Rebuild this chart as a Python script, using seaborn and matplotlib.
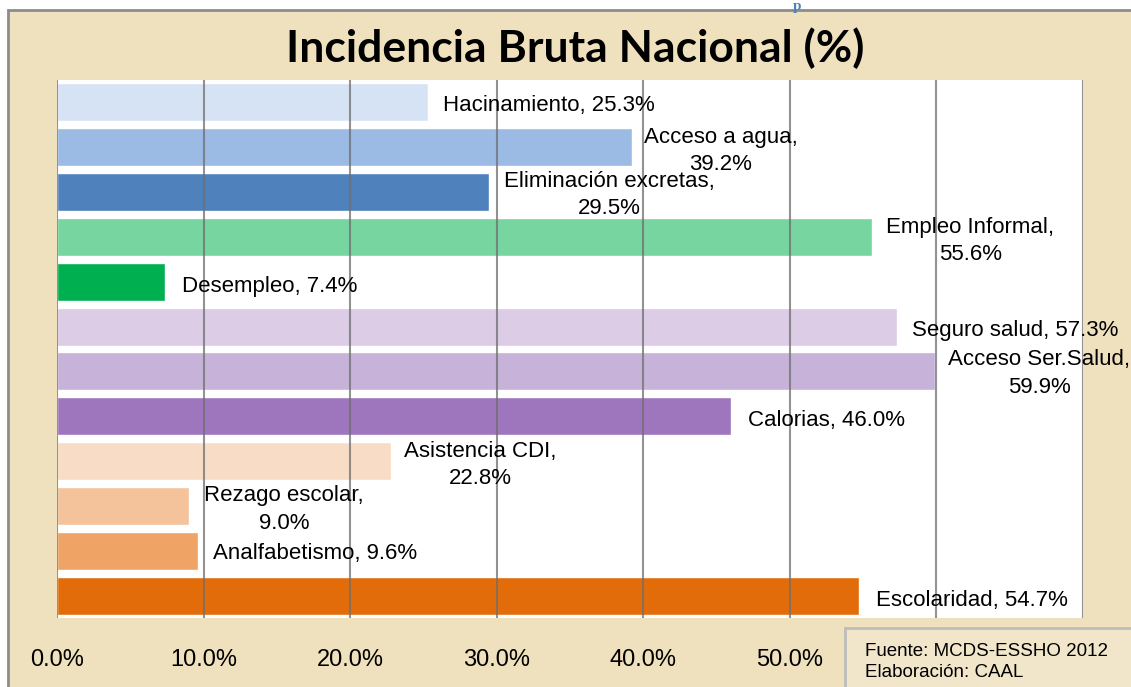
import numpy as np
import matplotlib
matplotlib.use("Agg")
import matplotlib.pyplot as plt
from matplotlib import font_manager
from matplotlib.patches import Rectangle
import seaborn as sns

# data
categorias = ["Hacinamiento", "Acceso a agua", "Eliminación excretas", "Empleo Informal",
              "Desempleo", "Seguro salud", "Acceso Ser.Salud", "Calorias",
              "Asistencia CDI", "Rezago escolar", "Analfabetismo", "Escolaridad"]
valores = [25.3, 39.2, 29.5, 55.6, 7.4, 57.3, 59.9, 46.0, 22.8, 9.0, 9.6, 54.7]
colores = ["#D6E3F4", "#9BBBE5", "#4F81BD", "#77D5A0", "#00B050", "#DCCCE6",
           "#C7B2D9", "#9E76BD", "#F8DCC5", "#F5C39B", "#EFA365", "#E36C0A"]
ticks = [0.0, 0.1, 0.2, 0.3, 0.4, 0.5, 0.6, 0.7]
tick_labels = ["0.0%", "10.0%", "20.0%", "30.0%", "40.0%", "50.0%", "", ""]

# label layout (x in fraction, two-line or not)
lab_x = [0.2634, 0.453, 0.3766, 0.623, 0.0853, 0.583, 0.670, 0.4715, 0.2886, 0.155, 0.1064, 0.5588]
lab_dy = [0.07, 0.09, 0.07, 0.09, 0.1, 0.08, 0.05, 0.09, 0.09, 0.08, 0.06, 0.1]
lab_wrap = [False, True, True, True, False, False, True, False, True, True, False, False]

names = {f.name for f in font_manager.fontManager.ttflist}
narrow = "Liberation Sans Narrow" in names
lab_font = "Liberation Sans Narrow" if narrow else "Liberation Sans"
lab_size = 18.5 if narrow else 16

sns.set_style("white")
plt.rcParams["font.family"] = ["Liberation Sans", "DejaVu Sans"]
plt.rcParams["text.color"] = "black"
plt.rcParams["xtick.color"] = "black"

fig = plt.figure(figsize=(11.31, 6.87), dpi=100)
fig.patch.set_facecolor("white")
fig.add_artist(Rectangle((8 / 1131, -0.05), 1.0, 1 - 10 / 687 + 0.05, transform=fig.transFigure,
                         facecolor="#F0E1BE", edgecolor="#8C8C8C", lw=2, zorder=-5))

ax = fig.add_axes([57 / 1131, 1 - 618 / 687, 1026 / 1131, 538 / 687])
ax.set_facecolor("white")

x = np.array(valores) / 100
sns.barplot(x=x, y=categorias, hue=categorias, palette=colores, legend=False,
            orient="h", width=0.85, saturation=1, ax=ax, zorder=2)

ax.set_xlim(0, 0.70)
ax.set_ylim(11.5, -0.5)
ax.set_xticks(ticks)
ax.set_xticklabels(tick_labels)
ax.grid(axis="x", color="#6E6E6E", lw=1.5, alpha=0.75, zorder=3)
ax.set_axisbelow(False)
for s in ax.spines.values():
    s.set_visible(False)
ax.set_yticks([])
ax.set_xlabel("")
ax.set_ylabel("")
ax.tick_params(axis="x", length=0, pad=22, labelsize=17 if not narrow else 19, labelcolor="black")
for t in ax.get_xticklabels():
    t.set_fontfamily(lab_font)

for i, (c, v) in enumerate(zip(categorias, valores)):
    if lab_wrap[i]:
        txt = f"{c},\n{v:.1f}%"
        ha = "center"
    else:
        txt = f"{c}, {v:.1f}%"
        ha = "left"
    ax.text(lab_x[i], i + lab_dy[i], txt, ha=ha, va="center", fontsize=lab_size,
            family=lab_font, linespacing=1.4, zorder=5, multialignment="center", color="black")

fig.text(575 / 1131, 1 - 48 / 687, "Incidencia Bruta Nacional (%)", ha="center", va="center",
         fontsize=32, fontweight="bold", family=["Lato", "DejaVu Sans"], color="black")

# heading remnant at the very top
fig.text(797 / 1131, 1.0, "p", ha="center", va="top", fontsize=11, color="#4F81BD",
         family=["Liberation Serif"], fontweight="bold")

# source box
fig.add_artist(Rectangle((845 / 1131, -0.05), 0.3, 0.05 + (687 - 628) / 687, transform=fig.transFigure,
                         facecolor="#F2E6CA", edgecolor="#BDBDBD", lw=2, zorder=10))
fig.text(865 / 1131, 1 - 662 / 687, "Fuente: MCDS-ESSHO 2012\nElaboración: CAAL", ha="left",
         va="center", fontsize=13.5, family=["Liberation Sans"], linespacing=1.3, zorder=11)

fig.savefig("out.png", dpi=100)
